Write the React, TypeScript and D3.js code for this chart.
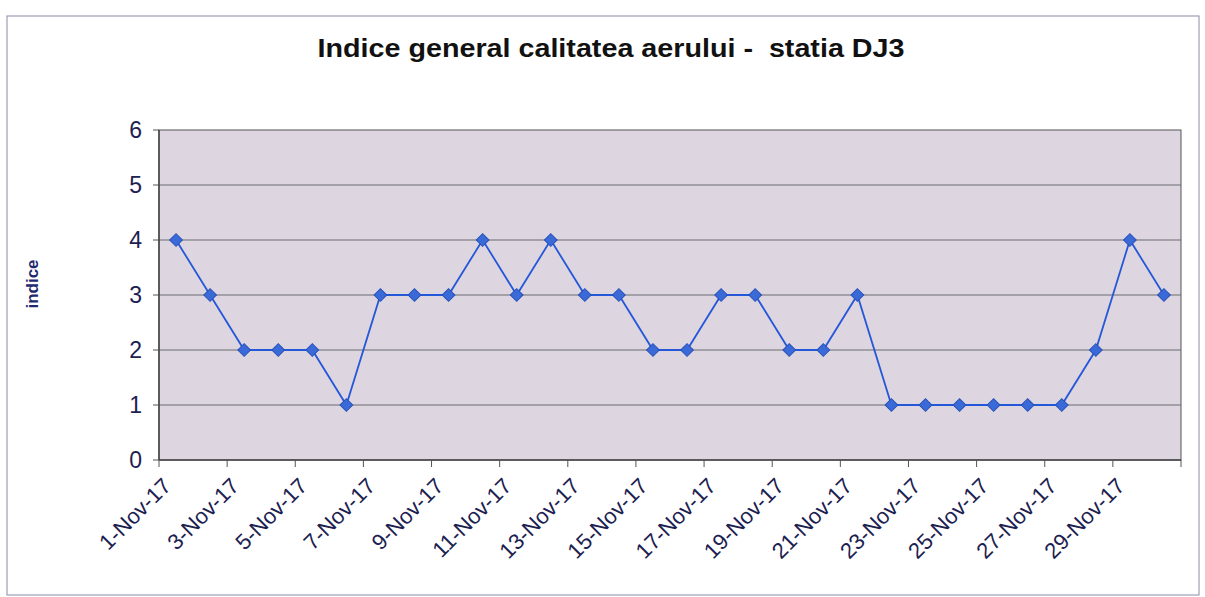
import React from "react";
import * as d3 from "d3";

const days: string[] = Array.from({ length: 30 }, (_, i) => `${i + 1}-Nov-17`);
const values: number[] = [4, 3, 2, 2, 2, 1, 3, 3, 3, 4, 3, 4, 3, 3, 2, 2, 3, 3, 2, 2, 3, 1, 1, 1, 1, 1, 1, 2, 4, 3];
const yTicks: number[] = [0, 1, 2, 3, 4, 5, 6];
const title = "Indice general calitatea aerului -  statia DJ3";
const yLabel = "indice";

export default function App() {
  const W = 1205, H = 597;
  const left = 159, right = 1181, top = 130, bottom = 460;
  const x = d3.scaleBand<string>().domain(days).range([left, right]).paddingInner(0).paddingOuter(0);
  const y = d3.scaleLinear().domain([0, 6]).range([bottom, top]);
  const line = d3.line<number>()
    .x((_, i) => (x(days[i]) as number) + x.bandwidth() / 2)
    .y((d) => y(d));
  const textColor = "#1c2150";
  const tickIdx = d3.range(0, 31, 2);
  return (
    <svg width={W} height={H} style={{ position: "absolute", left: 0, top: 0 }} fontFamily="Liberation Sans, Arial, sans-serif">
      <rect x={0} y={0} width={W} height={H} fill="#ffffff" />
      <rect x={7} y={16} width={1192} height={579} fill="none" stroke="#8a8aa8" strokeWidth={1} />
      <text x={611} y={57} textAnchor="middle" fontSize={25} fontWeight="bold" fill="#111" style={{ whiteSpace: "pre" }} textLength={587} lengthAdjust="spacingAndGlyphs">{title}</text>
      <rect x={left} y={top} width={right - left} height={bottom - top} fill="#ddd6e0" stroke="#555" strokeWidth={1} />
      {yTicks.map((t) => (
        <g key={t}>
          {t > 0 && t < 6 && <line x1={left} x2={right} y1={y(t)} y2={y(t)} stroke="#6a6a70" strokeWidth={1} />}
          <line x1={left - 6} x2={left} y1={y(t)} y2={y(t)} stroke="#555" />
          <text x={left - 17} y={y(t)} textAnchor="end" dominantBaseline="central" fontSize={23} fill={textColor}>{t}</text>
        </g>
      ))}
      <line x1={left} x2={right} y1={bottom} y2={bottom} stroke="#444" strokeWidth={1.5} />
      <line x1={left} x2={left} y1={top} y2={bottom} stroke="#444" strokeWidth={1.5} />
      {tickIdx.map((k) => {
        const tx = left + k * x.step();
        return <line key={k} x1={tx} x2={tx} y1={bottom} y2={bottom + 7} stroke="#555" />;
      })}
      {days.map((d, i) => i % 2 === 0 ? (
        <text key={d} transform={`translate(${left + i * x.step() + 2},${bottom + 16}) rotate(-45)`} textAnchor="end" dominantBaseline="hanging" fontSize={22} fill={textColor}>{d}</text>
      ) : null)}
      <path d={line(values) || ""} fill="none" stroke="#2558d8" strokeWidth={1.8} />
      {values.map((v, i) => {
        const cx = (x(days[i]) as number) + x.bandwidth() / 2;
        const cy = y(v);
        return <rect key={i} x={cx - 4.5} y={cy - 4.5} width={9} height={9} transform={`rotate(45 ${cx} ${cy})`} fill="#3a6ad8" stroke="#2650b8" strokeWidth={1} />;
      })}
      <text transform={`translate(38,284) rotate(-90)`} textAnchor="middle" fontSize={17} fontWeight="bold" fill="#1f2a6e">{yLabel}</text>
    </svg>
  );
}
